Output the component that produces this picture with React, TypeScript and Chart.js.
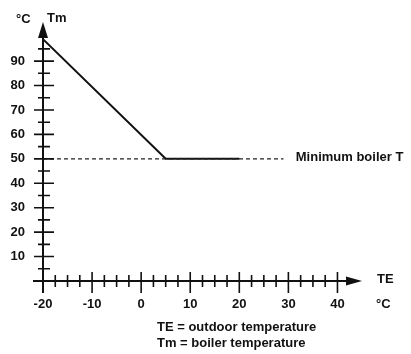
import React, { useEffect, useRef } from "react";
import { Chart, registerables } from "chart.js";

Chart.register(...registerables);

const curveTE = [-20, 5, 20];
const curveTm = [99, 50, 50];
const minTE = [-20, 29];
const minTm = [50, 50];
const xTickLabels = [-20, -10, 0, 10, 20, 30, 40];
const yTickLabels = [10, 20, 30, 40, 50, 60, 70, 80, 90];
const xMinorTicks = [-17.5, -15, -12.5, -7.5, -5, -2.5, 2.5, 5, 7.5, 12.5, 15, 17.5, 22.5, 25, 27.5, 32.5, 35, 37.5];
const yMinorTicks = [5, 15, 25, 35, 45, 55, 65, 75, 85, 95];
const minLabel = "Minimum boiler T";
const captions = ["TE = outdoor temperature", "Tm = boiler temperature"];

const FAMILY = "'Liberation Sans', Arial, sans-serif";
const FONT = "bold 13px " + FAMILY;

const axesPlugin = {
  id: "axesPlugin",
  afterDatasetsDraw(chart: any) {
    const ctx = chart.ctx;
    const xs = chart.scales.x;
    const ys = chart.scales.y;
    const x0 = xs.getPixelForValue(-20);
    const y0 = ys.getPixelForValue(0);
    const xEnd = xs.getPixelForValue(xs.max);
    const yEnd = ys.getPixelForValue(ys.max);
    ctx.save();
    ctx.strokeStyle = "#111";
    ctx.fillStyle = "#111";
    ctx.lineWidth = 2;
    ctx.beginPath();
    ctx.moveTo(x0, y0 + 12);
    ctx.lineTo(x0, yEnd + 12);
    ctx.moveTo(x0 - 10, y0);
    ctx.lineTo(xEnd - 12, y0);
    ctx.stroke();
    // arrows
    ctx.beginPath();
    ctx.moveTo(x0, yEnd);
    ctx.lineTo(x0 - 5, yEnd + 16);
    ctx.lineTo(x0 + 5, yEnd + 16);
    ctx.closePath();
    ctx.fill();
    ctx.beginPath();
    ctx.moveTo(xEnd, y0);
    ctx.lineTo(xEnd - 16, y0 - 4.5);
    ctx.lineTo(xEnd - 16, y0 + 4.5);
    ctx.closePath();
    ctx.fill();
    // ticks
    ctx.lineWidth = 1.6;
    ctx.beginPath();
    yTickLabels.forEach((v) => {
      const p = ys.getPixelForValue(v);
      ctx.moveTo(x0 - 9, p);
      ctx.lineTo(x0 + 11, p);
    });
    yMinorTicks.forEach((v) => {
      const p = ys.getPixelForValue(v);
      ctx.moveTo(x0 - 5, p);
      ctx.lineTo(x0 + 7, p);
    });
    xTickLabels.forEach((v) => {
      if (v === -20) return;
      const p = xs.getPixelForValue(v);
      ctx.moveTo(p, y0 - 9);
      ctx.lineTo(p, y0 + 12);
    });
    xMinorTicks.forEach((v) => {
      const p = xs.getPixelForValue(v);
      ctx.moveTo(p, y0 - 6);
      ctx.lineTo(p, y0 + 6);
    });
    ctx.stroke();
    // texts
    ctx.font = FONT;
    ctx.textBaseline = "middle";
    ctx.textAlign = "left";
    ctx.fillText("°C", 16, 19);
    ctx.fillText("Tm", x0 + 4, 18);
    ctx.fillText("TE", 377, y0 - 2);
    ctx.fillText("°C", 376, y0 + 23);
    ctx.fillText(minLabel, xs.getPixelForValue(31.5), ys.getPixelForValue(50) - 1);
    ctx.fillText(captions[0], 157, 327);
    ctx.fillText(captions[1], 157, 343);
    ctx.restore();
  },
};

export default function App() {
  const ref = useRef<HTMLCanvasElement | null>(null);
  useEffect(() => {
    if (!ref.current) return;
    const chart = new Chart(ref.current, {
      type: "scatter",
      data: {
        datasets: [
          {
            data: minTE.map((x, i) => ({ x, y: minTm[i] })),
            showLine: true,
            borderColor: "#222",
            borderWidth: 1.3,
            borderDash: [4, 3],
            pointRadius: 0,
          },
          {
            data: curveTE.map((x, i) => ({ x, y: curveTm[i] })),
            showLine: true,
            borderColor: "#111",
            borderWidth: 2,
            pointRadius: 0,
          },
        ],
      },
      plugins: [axesPlugin],
      options: {
        animation: false,
        responsive: false,
        events: [],
        layout: { padding: { left: 0, top: 22, right: 49, bottom: 0 } },
        plugins: { legend: { display: false }, tooltip: { enabled: false } },
        scales: {
          x: {
            type: "linear",
            min: -20,
            max: 45,
            grid: { display: false },
            border: { display: false },
            afterBuildTicks: (s: any) => {
              s.ticks = xTickLabels.map((v) => ({ value: v }));
            },
            afterFit: (s: any) => {
              s.height = 73;
            },
            ticks: {
              padding: 8,
              color: "#111",
              maxRotation: 0,
              autoSkip: false,
              font: { family: FAMILY, size: 13, weight: "bold" },
            },
          },
          y: {
            type: "linear",
            min: 0,
            max: 106,
            grid: { display: false },
            border: { display: false },
            afterBuildTicks: (s: any) => {
              s.ticks = yTickLabels.map((v) => ({ value: v }));
            },
            afterFit: (s: any) => {
              s.width = 43;
            },
            ticks: {
              padding: 10,
              color: "#111",
              autoSkip: false,
              font: { family: FAMILY, size: 13, weight: "bold" },
            },
          },
        },
      },
    });
    return () => chart.destroy();
  }, []);
  return (
    <div style={{ position: "fixed", left: 0, top: 0, width: 411, height: 354, background: "#fff" }}>
      <canvas ref={ref} width={411} height={354} style={{ width: 411, height: 354 }} />
    </div>
  );
}
